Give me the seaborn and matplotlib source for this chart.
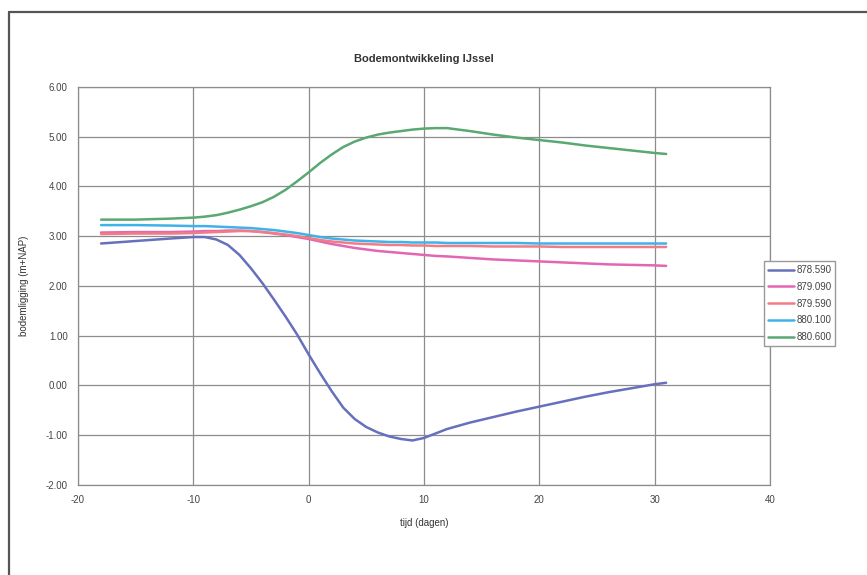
import pandas as pd
import matplotlib
matplotlib.use("Agg")
import matplotlib.pyplot as plt
import seaborn as sns
from matplotlib.lines import Line2D

# ==========================================
# DATA
# ==========================================

days = [-18, -15, -12, -10, -9, -8, -7, -6, -5, -4, -3, -2, -1, 0, 1, 2, 3, 4, 5, 6,
        7, 8, 9, 10, 11, 12, 14, 16, 18, 20, 22, 24, 26, 28, 30, 31]

km_878_590 = [2.85, 2.90, 2.95, 2.98, 2.98, 2.93, 2.82, 2.62, 2.35, 2.05, 1.72, 1.38,
              1.02, 0.62, 0.24, -0.12, -0.45, -0.68, -0.84, -0.95, -1.03, -1.08, -1.11,
              -1.06, -0.97, -0.88, -0.75, -0.64, -0.53, -0.43, -0.33, -0.23, -0.14,
              -0.06, 0.02, 0.05]
km_879_090 = [3.07, 3.08, 3.08, 3.09, 3.10, 3.10, 3.11, 3.11, 3.10, 3.08, 3.05, 3.02,
              2.98, 2.94, 2.89, 2.84, 2.80, 2.76, 2.73, 2.70, 2.68, 2.66, 2.64, 2.62,
              2.60, 2.59, 2.56, 2.53, 2.51, 2.49, 2.47, 2.45, 2.43, 2.42, 2.41, 2.40]
km_879_590 = [3.04, 3.05, 3.05, 3.06, 3.07, 3.08, 3.09, 3.10, 3.10, 3.08, 3.06, 3.03,
              3.00, 2.96, 2.92, 2.89, 2.87, 2.85, 2.84, 2.83, 2.82, 2.82, 2.81, 2.81,
              2.80, 2.80, 2.80, 2.79, 2.79, 2.79, 2.78, 2.78, 2.78, 2.78, 2.78, 2.78]
km_880_100 = [3.22, 3.22, 3.21, 3.20, 3.20, 3.19, 3.18, 3.17, 3.16, 3.14, 3.12, 3.09,
              3.06, 3.02, 2.98, 2.95, 2.93, 2.91, 2.90, 2.89, 2.88, 2.88, 2.87, 2.87,
              2.87, 2.86, 2.86, 2.86, 2.86, 2.85, 2.85, 2.85, 2.85, 2.85, 2.85, 2.85]
km_880_600 = [3.33, 3.33, 3.35, 3.37, 3.39, 3.42, 3.47, 3.53, 3.60, 3.68, 3.79, 3.93,
              4.10, 4.28, 4.47, 4.64, 4.79, 4.90, 4.98, 5.04, 5.08, 5.11, 5.14, 5.16,
              5.17, 5.17, 5.11, 5.04, 4.98, 4.93, 4.88, 4.82, 4.77, 4.72, 4.67, 4.65]

series_names = ["878.590", "879.090", "879.590", "880.100", "880.600"]
series_values = [km_878_590, km_879_090, km_879_590, km_880_100, km_880_600]
series_colors = ["#6670bd", "#e466b2", "#f27c86", "#3fb2e8", "#5aa872"]

x_ticks = [-20, -10, 0, 10, 20, 30, 40]
y_ticks = [-2, -1, 0, 1, 2, 3, 4, 5, 6]

rows = []
for name, vals in zip(series_names, series_values):
    for d, v in zip(days, vals):
        rows.append({"tijd": d, "bodem": v, "raai": name})
df = pd.DataFrame(rows)

# ==========================================
# PLOT
# ==========================================

sns.set_style("white")
plt.rcParams["font.family"] = ["Liberation Sans", "DejaVu Sans"]
plt.rcParams["axes.unicode_minus"] = False

fig = plt.figure(figsize=(8.67, 5.75), dpi=100)
ax = fig.add_axes([0.09, 0.157, 0.798, 0.692])

sns.lineplot(
    data=df,
    x="tijd",
    y="bodem",
    hue="raai",
    palette=dict(zip(series_names, series_colors)),
    linewidth=1.8,
    ax=ax,
)

ax.set_xlim(-20, 40)
ax.set_ylim(-2, 6)
ax.set_xticks(x_ticks)
ax.set_yticks(y_ticks)
ax.set_yticklabels([f"{t:.2f}" for t in y_ticks])
ax.grid(True, color="#8c8c8c", linewidth=0.9)
ax.tick_params(axis="both", labelsize=7, colors="#444444", direction="inout",
               length=5, width=0.8, pad=5)
for s in ax.spines.values():
    s.set_color("#8c8c8c")
    s.set_linewidth(0.9)

ax.set_xlabel("tijd (dagen)", fontsize=7, color="#333333", labelpad=9)
ax.set_ylabel("bodemligging (m+NAP)", fontsize=7, color="#333333", labelpad=12)
ax.set_title("Bodemontwikkeling IJssel", fontsize=8, fontweight="bold",
             color="#333333", pad=18)

leg = ax.legend(
    loc="center left",
    bbox_to_anchor=(0.985, 0.455),
    fontsize=7,
    frameon=True,
    fancybox=False,
    framealpha=1,
    edgecolor="#999999",
    handlelength=2.6,
    handletextpad=0.3,
    labelspacing=0.7,
    borderpad=0.4,
)
for t in leg.get_texts():
    t.set_color("#444444")

# chart area frame (top and left edge)
fig.add_artist(Line2D([0.01, 0.01], [0.0, 0.98], transform=fig.transFigure,
                      color="#555555", linewidth=1.6))
fig.add_artist(Line2D([0.01, 1.0], [0.98, 0.98], transform=fig.transFigure,
                      color="#555555", linewidth=1.6))

plt.savefig("out.png", dpi=100)
